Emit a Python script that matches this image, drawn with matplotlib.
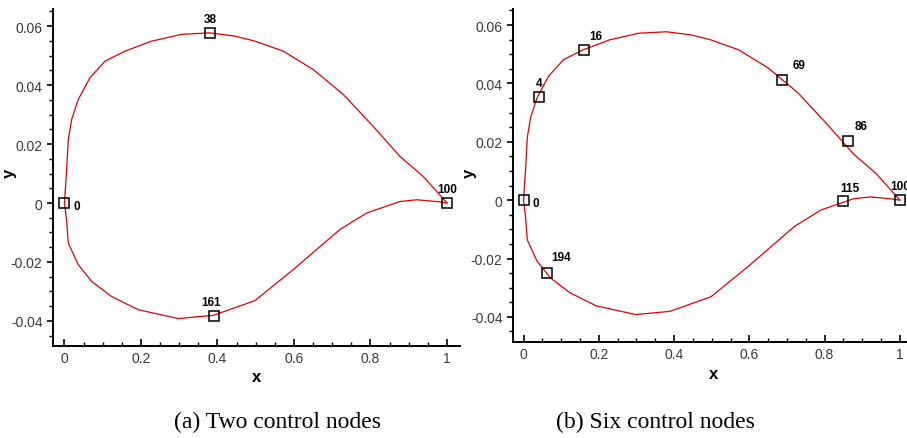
import numpy as np
import matplotlib.pyplot as plt

# contour of the airfoil
upper_x = [0.0, 0.0057, 0.010, 0.0187, 0.036, 0.0667, 0.106, 0.158, 0.228, 0.306, 0.380,
           0.446, 0.498, 0.572, 0.650, 0.729, 0.807, 0.877, 0.938, 1.0]
upper_y = [0.0, 0.0113, 0.0215, 0.0283, 0.0351, 0.0425, 0.0481, 0.0515, 0.0549, 0.0572, 0.0577,
           0.0566, 0.0549, 0.0515, 0.0453, 0.0368, 0.0260, 0.0158, 0.0090, 0.0]
lower_x = [0.0, 0.0057, 0.010, 0.036, 0.071, 0.123, 0.193, 0.298, 0.389, 0.498, 0.598,
           0.720, 0.790, 0.877, 0.921, 0.973, 1.0]
lower_y = [0.0, -0.0062, -0.0136, -0.0209, -0.0266, -0.0317, -0.0362, -0.0392, -0.0381, -0.0331, -0.0226,
           -0.0090, -0.0034, 0.0005, 0.0011, 0.0005, 0.0]

# control nodes
nodes_a = ["0", "38", "100", "161"]
nodes_a_x = [0.0, 0.381, 1.0, 0.391]
nodes_a_y = [0.0, 0.0577, 0.0, -0.0383]

nodes_b = ["0", "4", "16", "69", "86", "100", "115", "194"]
nodes_b_x = [0.0, 0.0416, 0.162, 0.688, 0.861, 1.0, 0.85, 0.062]
nodes_b_y = [0.0, 0.0355, 0.0514, 0.0411, 0.0201, 0.0, -0.0002, -0.0248]

xticks = [0, 0.2, 0.4, 0.6, 0.8, 1.0]
xticklabels = ["0", "0.2", "0.4", "0.6", "0.8", "1"]
yticks = [-0.04, -0.02, 0, 0.02, 0.04, 0.06]
yticklabels = ["-0.04", "-0.02", "0", "0.02", "0.04", "0.06"]

# label offsets in points (dx, dy)
offs_a = [(9, -2), (0, 10), (0, 10), (-2, 10)]
offs_b = [(9, -2), (0, 10), (8, 10), (12, 11), (10, 11), (0, 10), (5, 9), (10, 11)]

fig = plt.figure(figsize=(9.07, 4.39), dpi=100)
ax1 = fig.add_axes([53/907, 1-347/439, (460-53)/907, (347-10)/439])
ax2 = fig.add_axes([513/907, 1-343/439, (907-513)/907, (343-10)/439])


def draw(ax, names, nx, ny, offs, xlim, ylim, xlab_pos, ylab_pos):
    ax.plot(upper_x, upper_y, color="#e40000", lw=0.9)
    ax.plot(lower_x, lower_y, color="#e40000", lw=0.9)
    ax.plot(nx, ny, ls="none", marker="s", ms=7, mfc="none", mec="black", mew=1.1)
    for n, x, y, (dx, dy) in zip(names, nx, ny, offs):
        ax.annotate(n, (x, y), xytext=(dx, dy), textcoords="offset points",
                    ha="center", va="center", fontsize=8.5, fontweight="bold",
                    family="Liberation Sans", annotation_clip=False)
    ax.set_xlim(xlim)
    ax.set_ylim(ylim)
    ax.spines["top"].set_visible(False)
    ax.spines["right"].set_visible(False)
    ax.spines["left"].set_linewidth(1.4)
    ax.spines["bottom"].set_linewidth(1.4)
    ax.set_xticks(xticks)
    ax.set_xticklabels(xticklabels)
    ax.set_yticks(yticks)
    ax.set_yticklabels(yticklabels)
    ax.set_xticks(np.arange(0, 1.01, 0.05), minor=True)
    ax.set_yticks(np.arange(-0.045, 0.066, 0.005), minor=True)
    ax.tick_params(axis="x", which="major", direction="in", length=5, width=1.2)
    ax.tick_params(axis="x", which="minor", direction="in", length=3, width=1)
    ax.tick_params(axis="y", which="major", direction="out", length=4, width=1.2)
    ax.tick_params(axis="y", which="minor", direction="out", length=3, width=1)
    ax.tick_params(labelsize=10, labelcolor="#3a3a3a")
    for lab in ax.get_xticklabels() + ax.get_yticklabels():
        lab.set_family("Liberation Sans")
    ax.set_xlabel("x", fontsize=12, fontweight="bold", family="Liberation Sans")
    ax.set_ylabel("y", fontsize=12, fontweight="bold", family="Liberation Sans")
    ax.xaxis.set_label_coords(*xlab_pos)
    ax.yaxis.set_label_coords(*ylab_pos)


draw(ax1, nodes_a, nodes_a_x, nodes_a_y, offs_a, (-0.030, 1.034), (-0.0485, 0.0658),
     (0.501, -0.068), (-0.088, 0.516))
draw(ax2, nodes_b, nodes_b_x, nodes_b_y, offs_b, (-0.028, 1.019), (-0.0486, 0.0655),
     (0.508, -0.072), (-0.091, 0.51))

fig.text(277/907, 1-422/439, "(a) Two control nodes", ha="center", va="center",
         fontsize=17, family="Liberation Serif")
fig.text(655/907, 1-422/439, "(b) Six control nodes", ha="center", va="center",
         fontsize=17, family="Liberation Serif")

plt.savefig("out.png", dpi=100)
